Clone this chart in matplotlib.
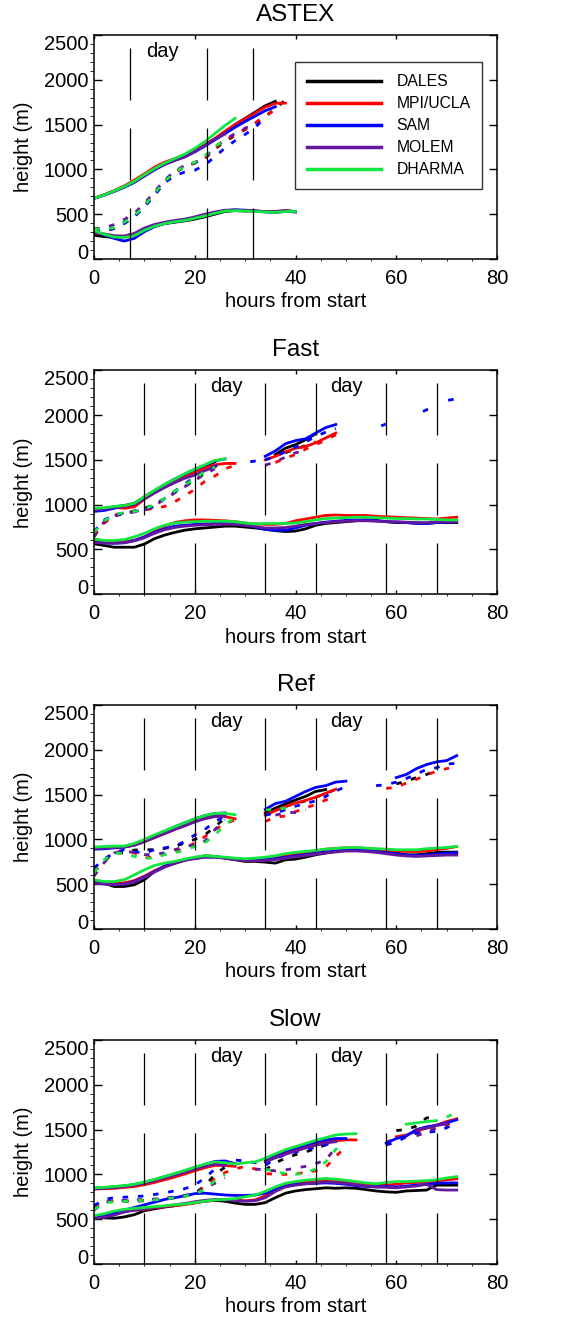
import numpy as np
import matplotlib.pyplot as plt

nan = np.nan
plt.rcParams['font.family'] = ['Liberation Sans', 'DejaVu Sans']
plt.rcParams['lines.scale_dashes'] = False

models = ['DALES', 'MPI/UCLA', 'SAM', 'MOLEM', 'DHARMA']
colors = ['black', '#ff0000', '#0000ff', '#6418a0', '#10e840']

# ---------------- ASTEX (0..40 h, every 2 h) ----------------
astex_t = np.arange(0, 41, 2)
astex_top = [
    [677, 714, 759, 807, 865, 935, 1005, 1060, 1105, 1150, 1210, 1270, 1340, 1420, 1500, 1570, 1640, 1710, 1760, nan, nan],
    [677, 716, 763, 815, 880, 950, 1025, 1080, 1120, 1160, 1215, 1275, 1345, 1425, 1500, 1565, 1630, 1695, 1738, 1740, nan],
    [677, 712, 755, 800, 855, 925, 995, 1055, 1100, 1140, 1195, 1260, 1330, 1400, 1470, 1535, 1595, 1655, 1700, nan, nan],
    [677, 713, 757, 803, 860, 930, 1000, 1058, 1100, 1140, 1200, 1265, 1340, 1395, nan, nan, nan, nan, nan, nan, nan],
    [677, 714, 760, 808, 868, 940, 1010, 1070, 1120, 1170, 1235, 1310, 1400, 1490, 1570, nan, nan, nan, nan, nan, nan],
]
astex_base = [
    [265, 250, 240, 250, 270, 320, 365, 395, 410, 425, 445, 470, 500, 530, 540, 535, 535, 530, 525, 535, 530],
    [300, 270, 250, 255, 280, 335, 375, 405, 420, 435, 460, 485, 515, 540, 545, 540, 535, 530, 530, 540, 525],
    [310, 270, 230, 200, 230, 305, 360, 395, 415, 430, 455, 485, 515, 540, 550, 545, 535, 525, 520, 530, 525],
    [305, 280, 260, 255, 285, 345, 385, 410, 430, 445, 470, 500, 525, 545, 545, 540, 535, 530, 530, 540, 530],
    [320, 275, 245, 240, 260, 320, 365, 395, 415, 430, 455, 480, 510, 535, 540, 535, 530, 525, 520, 530, 530],
]
astex_dash = [
    [320, 320, 340, 400, 470, 590, 720, 860, 960, 1030, 1070, 1120, 1230, 1310, 1380, 1445, 1510, 1590, 1680, 1775, nan],
    [330, 325, 350, 410, 480, 600, 735, 870, 970, 1040, 1075, 1125, 1240, 1320, 1390, 1450, 1520, 1600, 1665, nan, nan],
    [320, 315, 340, 395, 470, 580, 710, 850, 930, 970, 990, 1050, 1140, 1240, 1320, 1390, 1470, 1580, nan, nan, nan],
    [340, 345, 385, 440, 510, 620, 750, 880, 980, 1045, 1075, 1130, 1250, 1330, 1400, 1460, 1515, nan, nan, nan, nan],
    [335, 330, 350, 410, 480, 595, 730, 865, 965, 1035, 1080, 1150, 1260, 1320, nan, nan, nan, nan, nan, nan, nan],
]
astex_lines = [7.1, 22.4, 31.6]
astex_day = [13.6]

# ---------------- Fast (0..72 h, every 2 h) ----------------
t72 = np.arange(0, 73, 2)
fast_top = [
    [950, 958, 975, 990, 1015, 1085, 1150, 1215, 1275, 1330, 1385, 1430, 1480, nan, nan, nan, nan, nan, 1560, 1630, 1670, 1725, 1790, nan, nan, nan, nan, nan, nan, nan, nan, nan, nan, nan, nan, nan, nan],
    [955, 960, 970, 960, 975, 1060, 1135, 1200, 1260, 1315, 1360, 1410, 1445, 1460, 1460, nan, nan, 1500, 1540, 1590, 1630, 1650, 1690, 1745, 1800, nan, nan, nan, nan, nan, nan, nan, nan, nan, nan, nan, nan],
    [925, 935, 960, 985, 1010, 1085, 1155, 1225, 1285, 1340, 1395, 1440, 1490, 1510, nan, nan, nan, 1540, 1600, 1680, 1715, 1735, 1800, 1860, 1895, nan, nan, nan, nan, nan, nan, nan, nan, nan, nan, nan, nan],
    [940, 950, 970, 985, 1000, 1065, 1130, 1190, 1245, 1295, 1330, 1380, 1420, nan, nan, nan, nan, nan, nan, nan, nan, nan, nan, nan, nan, nan, nan, nan, nan, nan, nan, nan, nan, nan, nan, nan, nan],
    [960, 965, 980, 990, 1015, 1090, 1160, 1225, 1285, 1345, 1395, 1445, 1495, 1510, nan, nan, nan, nan, nan, nan, nan, nan, nan, nan, nan, nan, nan, nan, nan, nan, nan, nan, nan, nan, nan, nan, nan],
]
fast_base = [
    [563, 545, 525, 525, 525, 560, 620, 660, 690, 715, 730, 740, 750, 760, 760, 750, 740, 725, 710, 700, 705, 730, 770, 790, 800, 810, 820, 830, 825, 810, 800, 800, 795, 790, 800, 800, 800],
    [600, 585, 580, 590, 600, 640, 700, 760, 800, 820, 830, 830, 825, 820, 810, 795, 785, 780, 780, 790, 820, 840, 860, 880, 885, 880, 880, 880, 870, 865, 860, 855, 850, 845, 840, 850, 860],
    [580, 575, 570, 575, 600, 640, 690, 730, 760, 770, 780, 785, 790, 790, 785, 775, 750, 725, 715, 715, 740, 770, 790, 805, 815, 825, 830, 830, 820, 810, 805, 800, 790, 790, 800, 805, 810],
    [580, 570, 570, 575, 595, 630, 680, 720, 745, 760, 770, 775, 780, 780, 780, 770, 755, 740, 740, 745, 760, 780, 790, 800, 810, 815, 820, 820, 815, 810, 810, 805, 800, 800, 805, 810, 810],
    [618, 600, 600, 610, 640, 680, 730, 770, 795, 805, 810, 815, 815, 815, 810, 795, 785, 790, 790, 790, 795, 810, 830, 845, 850, 855, 860, 860, 855, 850, 845, 845, 840, 840, 835, 830, 830],
]
fast_dash = [
    [650, 800, 870, 905, 930, 960, 1000, 1070, 1140, 1200, 1280, 1350, nan, nan, nan, nan, nan, nan, nan, 1580, 1620, 1660, 1700, nan, nan, nan, nan, nan, nan, nan, nan, nan, nan, nan, nan, nan, nan],
    [660, 790, 890, 905, 920, 940, 960, 980, 1030, 1100, 1170, 1260, 1320, 1400, 1440, nan, nan, nan, 1470, 1520, 1560, 1620, 1670, 1720, 1780, nan, nan, nan, nan, nan, nan, nan, nan, nan, nan, nan, nan],
    [700, 830, 880, 910, 925, 940, 980, 1070, 1150, 1230, 1310, 1380, 1430, 1470, nan, nan, nan, 1500, 1540, 1590, 1640, 1700, 1760, 1810, 1850, nan, nan, nan, nan, nan, nan, nan, nan, nan, nan, nan, nan],
    [640, 810, 880, 905, 920, 940, 990, 1060, 1130, 1200, 1270, 1340, 1400, nan, nan, nan, nan, 1440, 1480, 1530, 1580, 1600, nan, nan, nan, nan, nan, nan, nan, nan, nan, nan, nan, nan, nan, nan, nan],
    [690, 820, 890, 910, 925, 950, 1000, 1070, 1150, 1220, 1290, 1370, 1420, nan, nan, nan, nan, nan, nan, nan, nan, nan, nan, nan, nan, nan, nan, nan, nan, nan, nan, nan, nan, nan, nan, nan, nan],
]
# isolated SAM dashes late in the Fast case
fast_sam_bits_t = [31, 32.5, nan, 57, 58.5, nan, 65.3, 66.8, nan, 70.3, 71.7]
fast_sam_bits_z = [1480, 1490, nan, 1880, 1910, nan, 2040, 2080, nan, 2165, 2180]
case_lines = [10, 20, 34, 44, 58, 68]
case_day = [26.2, 50.1]

# ---------------- Ref ----------------
ref_top = [
    [900, 910, 915, 915, 940, 985, 1035, 1080, 1130, 1175, 1220, 1255, 1280, 1290, nan, nan, nan, 1295, 1350, 1395, 1440, 1480, 1535, 1556, nan, nan, nan, nan, nan, nan, nan, nan, nan, nan, nan, nan, nan],
    [900, 910, 915, 915, 935, 975, 1020, 1065, 1110, 1155, 1200, 1235, 1260, 1255, 1230, nan, nan, 1270, 1320, 1365, 1405, 1435, 1470, 1515, 1560, nan, nan, nan, nan, nan, nan, nan, nan, nan, nan, nan, nan],
    [890, 895, 905, 915, 945, 990, 1040, 1090, 1140, 1185, 1230, 1265, 1290, 1295, nan, nan, nan, 1335, 1400, 1425, 1480, 1535, 1580, 1600, 1640, 1650, nan, nan, nan, nan, 1690, 1725, 1790, 1835, 1865, 1880, 1935],
    [895, 905, 910, 915, 935, 975, 1020, 1065, 1110, 1150, 1195, 1230, 1255, 1260, nan, nan, nan, nan, nan, nan, nan, nan, nan, nan, nan, nan, nan, nan, nan, nan, nan, nan, nan, nan, nan, nan, nan],
    [915, 920, 925, 925, 955, 1000, 1050, 1095, 1140, 1185, 1230, 1265, 1290, 1290, 1275, nan, nan, nan, nan, nan, nan, nan, nan, nan, nan, nan, nan, nan, nan, nan, nan, nan, nan, nan, nan, nan, nan],
]
ref_base = [
    [511, 511, 474, 474, 493, 549, 642, 698, 735, 772, 791, 817, 810, 791, 772, 754, 754, 746, 735, 772, 780, 802, 828, 847, 866, 884, 884, 884, 866, 858, 847, 828, 828, 840, 855, 858, 858],
    [540, 520, 510, 515, 540, 590, 650, 700, 735, 770, 795, 810, 805, 795, 780, 765, 760, 770, 790, 815, 835, 850, 870, 890, 900, 905, 905, 900, 890, 880, 870, 865, 865, 870, 885, 900, 920],
    [520, 505, 495, 500, 530, 580, 640, 700, 740, 770, 790, 805, 805, 795, 785, 775, 770, 775, 785, 800, 815, 830, 845, 860, 870, 880, 880, 875, 865, 850, 840, 825, 820, 825, 835, 845, 850],
    [515, 500, 495, 500, 525, 575, 635, 690, 730, 765, 785, 800, 800, 790, 775, 765, 760, 765, 775, 790, 805, 820, 835, 850, 860, 870, 870, 865, 855, 840, 825, 815, 810, 815, 820, 825, 825],
    [549, 530, 530, 549, 604, 660, 709, 735, 754, 780, 802, 817, 810, 802, 791, 784, 791, 802, 817, 840, 855, 866, 877, 892, 899, 907, 910, 903, 896, 892, 884, 884, 884, 896, 903, 910, 922],
]
ref_dash = [
    [640, 760, 845, 850, 880, 885, 885, 900, 920, 960, 1000, 1050, 1140, 1240, nan, nan, nan, 1290, nan, 1370, 1400, 1430, 1470, 1510, 1560, nan, nan, nan, nan, nan, 1620, 1650, 1690, 1725, 1770, nan, nan],
    [640, 770, 860, 860, 850, 790, 810, 830, 865, 900, 960, 1030, 1110, 1170, 1220, nan, nan, 1200, 1250, 1260, 1310, 1350, 1390, 1440, 1480, nan, nan, nan, nan, 1570, 1580, 1630, 1670, 1720, 1760, 1790, 1810],
    [680, 780, 850, 885, 865, 845, 885, 905, 925, 975, 1050, 1110, 1200, 1255, nan, nan, nan, 1270, 1295, 1330, 1370, 1400, 1430, 1480, 1540, 1590, nan, nan, 1600, 1610, 1640, 1680, 1730, 1780, 1800, 1840, 1850],
    [590, 740, 850, 860, 860, 830, 830, 850, 885, 920, 940, 980, 1110, 1220, nan, nan, nan, nan, 1270, 1300, 1300, 1330, nan, nan, nan, nan, nan, nan, nan, nan, nan, nan, nan, nan, nan, nan, nan],
    [630, 770, 850, 840, 810, 790, 790, 830, 850, 880, 920, 960, 1050, 1160, 1250, nan, nan, 1330, 1330, 1350, 1380, nan, nan, nan, nan, nan, nan, nan, nan, nan, nan, nan, nan, nan, nan, nan, nan],
]

# ---------------- Slow ----------------
slow_top = [
    [845, 850, 860, 870, 885, 905, 935, 965, 995, 1030, 1065, 1100, 1135, nan, nan, nan, nan, nan, nan, nan, nan, nan, nan, nan, nan, nan, nan, nan, nan, nan, nan, nan, nan, nan, nan, nan, nan],
    [835, 840, 845, 855, 865, 885, 910, 940, 970, 1005, 1040, 1075, 1100, 1100, 1090, nan, nan, 1160, 1200, 1240, 1270, 1310, 1340, 1360, 1375, 1385, 1385, nan, nan, nan, 1420, 1440, 1480, 1520, 1550, 1590, 1620],
    [845, 850, 860, 870, 885, 910, 940, 975, 1005, 1040, 1075, 1110, 1145, 1150, 1120, nan, nan, 1170, 1220, 1260, 1295, 1330, 1360, 1385, 1400, 1400, nan, nan, nan, 1350, 1400, 1430, 1500, 1530, 1550, 1575, 1610],
    [840, 845, 855, 865, 880, 900, 930, 960, 990, 1025, 1060, 1090, 1115, 1105, nan, nan, nan, 1140, 1185, 1225, 1260, 1295, 1325, 1350, 1365, nan, nan, nan, nan, nan, nan, nan, 1500, 1515, 1545, 1565, nan],
    [850, 855, 865, 875, 890, 915, 945, 975, 1010, 1045, 1080, 1115, 1140, 1130, 1115, 1130, 1140, 1180, 1230, 1275, 1310, 1345, 1380, 1410, 1440, 1450, 1455, nan, nan, nan, nan, 1560, 1575, 1590, 1600, nan, nan],
]
slow_base = [
    [530, 515, 510, 525, 550, 595, 615, 635, 650, 665, 685, 700, 710, 700, 680, 665, 665, 685, 740, 790, 815, 830, 840, 850, 845, 850, 845, 830, 815, 805, 800, 815, 820, 825, 880, 880, 880],
    [520, 530, 560, 590, 600, 610, 625, 640, 650, 665, 680, 700, 715, 720, 715, 705, 715, 760, 830, 875, 900, 920, 935, 940, 935, 920, 900, 890, 885, 880, 890, 905, 910, 920, 925, 940, 950],
    [525, 540, 570, 600, 630, 660, 690, 720, 740, 760, 785, 790, 780, 770, 765, 765, 770, 790, 830, 870, 890, 895, 900, 905, 900, 890, 875, 865, 860, 865, 860, 870, 880, 890, 900, 905, 905],
    [510, 520, 545, 580, 600, 615, 630, 645, 660, 675, 695, 710, 720, 715, 710, 700, 705, 740, 810, 860, 880, 895, 905, 915, 910, 900, 885, 870, 860, 855, 850, 860, 870, 890, 830, 825, 825],
    [540, 560, 590, 610, 620, 630, 640, 650, 660, 670, 685, 700, 715, 720, 730, 750, 770, 810, 860, 900, 920, 935, 945, 955, 945, 935, 920, 905, 895, 910, 920, 920, 925, 930, 940, 960, 975],
]
slow_dash = [
    [620, 690, 700, 700, 700, 705, 715, 725, 740, 760, 790, 870, 1000, 1080, nan, nan, nan, 1050, 1130, 1180, 1220, 1250, 1290, 1330, 1370, nan, nan, nan, nan, nan, 1490, 1500, 1540, 1630, 1640, nan, nan],
    [640, 700, 705, 705, 705, 710, 715, 725, 740, 755, 785, 860, 950, 1020, 1060, 1090, 1060, 1010, 1000, 1000, 1010, 1020, 1040, 1080, 1200, 1310, nan, nan, nan, 1360, 1400, 1420, 1470, 1490, 1510, 1550, 1620],
    [650, 720, 740, 745, 750, 760, 775, 795, 815, 840, 880, 960, 1060, 1110, 1160, 1150, 1130, 1100, 1180, 1220, 1250, 1280, 1300, 1330, 1370, nan, nan, nan, nan, 1330, 1360, 1420, 1460, 1470, 1480, 1520, 1580],
    [600, 690, 705, 710, 715, 720, 725, 735, 750, 765, 790, 850, 900, 960, nan, nan, 1060, 1050, 1040, 1050, 1070, 1090, 1120, 1160, 1300, nan, nan, nan, nan, nan, nan, nan, 1430, 1470, 1520, 1560, nan],
    [610, 680, 695, 700, 705, 710, 715, 725, 740, 755, 780, 830, 930, 1000, nan, nan, nan, 1060, 1030, 1010, 1000, 1020, 1060, 1140, 1280, 1350, nan, nan, nan, nan, nan, nan, nan, nan, nan, 1640, 1690],
]

panels = [
    ('ASTEX', astex_t, astex_top, astex_base, astex_dash, astex_lines, astex_day, 0.8041),
    ('Fast', t72, fast_top, fast_base, fast_dash, case_lines, case_day, 0.5505),
    ('Ref', t72, ref_top, ref_base, ref_dash, case_lines, case_day, 0.2973),
    ('Slow', t72, slow_top, slow_base, slow_dash, case_lines, case_day, 0.0439),
]

dash_style = (4.0, 7.0)

fig = plt.figure(figsize=(5.85, 13.22), dpi=100)
for title, t, top, base, dash, vlines, days, bot in panels:
    ax = fig.add_axes([0.1607, bot, 0.6889, 0.1694])
    for i in range(5):
        ax.plot(t, top[i], color=colors[i], lw=2.0, label=models[i])
        ax.plot(t, base[i], color=colors[i], lw=2.0)
        ax.plot(t, dash[i], color=colors[i], lw=2.0, dashes=dash_style)
    if title == 'Fast':
        ax.plot(fast_sam_bits_t, fast_sam_bits_z, color=colors[2], lw=2.0, dashes=dash_style)
    for x in vlines:
        ax.plot([x, x], [2355, 0], color='black', lw=0.9, dashes=(37.4, 20.2))
    for x in days:
        ax.text(x, 2320, 'day', ha='center', va='center', fontsize=14.5)

    ax.set_xlim(0, 80)
    ax.set_ylim(0, 2500)
    ax.set_xticks(np.arange(0, 81, 20))
    ax.set_xticks(np.arange(0, 81, 5), minor=True)
    ax.set_yticks(np.arange(0, 2501, 500))
    ax.set_yticks(np.arange(0, 2501, 100), minor=True)
    ax.tick_params(direction='in', top=True, right=True, labelsize=14.5, width=1)
    ax.tick_params(axis='y', which='major', length=5.8, pad=4)
    ax.tick_params(axis='y', which='minor', length=2.9)
    ax.tick_params(axis='x', which='major', length=3.2, pad=7)
    ax.tick_params(axis='x', which='minor', length=1.6)
    ylabs = ax.get_yticklabels()
    ylabs[0].set_va('baseline')
    ylabs[-1].set_va('top')
    for s in ax.spines.values():
        s.set_linewidth(1.1)

    ax.set_xlabel('hours from start', fontsize=14.5)
    ax.xaxis.set_label_coords(0.5, -0.192)
    ax.xaxis.label.set_va('center')
    ax.set_ylabel('height (m)', fontsize=14.5)
    ax.yaxis.set_label_coords(-0.176, 0.5)
    ax.yaxis.label.set_va('center')
    ax.text(0.5, 1 + 20 / 224, title, transform=ax.transAxes, ha='center', va='center', fontsize=17.5)

    if title == 'ASTEX':
        leg = ax.legend(loc='upper left', bbox_to_anchor=(0.499, 0.878), borderaxespad=0,
                        fontsize=11.3, handlelength=4.7, handletextpad=1.0, labelspacing=0.45,
                        borderpad=0.75, fancybox=False, framealpha=1, edgecolor='#333333')
        leg.get_frame().set_linewidth(1.0)
        for h in leg.get_lines():
            h.set_linewidth(2.5)

fig.savefig('out.png', dpi=100)
